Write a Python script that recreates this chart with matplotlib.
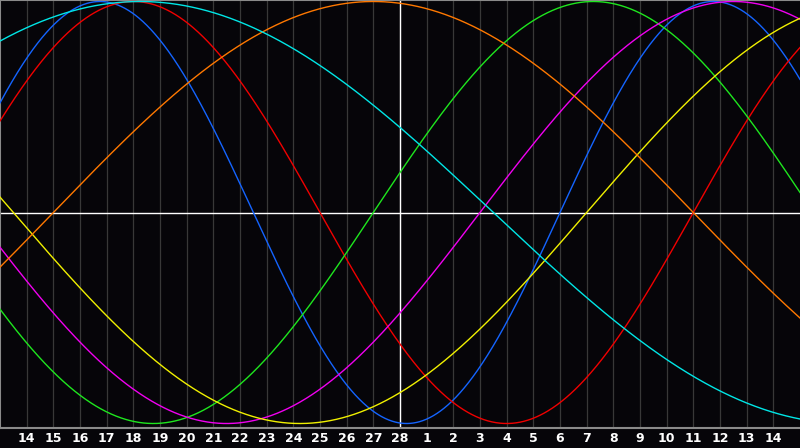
import numpy as np
import matplotlib
matplotlib.use("Agg")
import matplotlib.pyplot as plt

# ---- data ----
day_labels = ["14", "15", "16", "17", "18", "19", "20", "21", "22", "23", "24", "25", "26", "27", "28",
              "1", "2", "3", "4", "5", "6", "7", "8", "9", "10", "11", "12", "13", "14"]
days_since_birth_at_start = 43150      # day count at left edge of chart (day 13)
days_shown = 30
today_index = 15                        # the 28th
cycle_names = ["physical", "emotional", "intellectual", "intuitive", "aesthetic", "awareness", "spiritual"]
cycle_periods = [23, 28, 33, 38, 43, 48, 53]

# ---- style ----
cycle_colors = ["#1464ff", "#f00000", "#1ee61e", "#f000f0", "#f0f000", "#ff7800", "#00e6e6"]
bg = "#060509"
grid_col = "#383838"

W, H = 800, 448
plot_h = 428
fig = plt.figure(figsize=(W / 100, H / 100), dpi=100, facecolor=bg)
ax = fig.add_axes([0, (H - plot_h) / H, 1, plot_h / H])
ax.set_facecolor(bg)

# vertical day grid
for k in range(1, days_shown):
    ax.axvline(k, color=grid_col, lw=0.9, zorder=1)

# axes lines
ax.axhline(0, color="white", lw=1.0, zorder=2)
ax.axvline(today_index, color="white", lw=1.0, zorder=2)

t = np.linspace(0, days_shown, 1601)
for name, p, c in zip(cycle_names, cycle_periods, cycle_colors):
    v = np.sin(2 * np.pi * (days_since_birth_at_start + t) / p)
    ax.plot(t, v, color=c, lw=1.0, zorder=3)

ax.set_xlim(0, days_shown)
ax.set_ylim(-1.0213, 1.0071)
ax.set_xticks(range(1, days_shown))
ax.set_xticklabels(day_labels)
ax.tick_params(axis="x", length=0, pad=3, colors="white", labelsize=9)
for lab in ax.get_xticklabels():
    lab.set_fontweight("bold")
ax.set_yticks([])
for s in ["left", "bottom", "top"]:
    ax.spines[s].set_color("#8a8a8a")
    ax.spines[s].set_linewidth(1.5)
ax.spines["right"].set_visible(False)

fig.savefig("out.png", dpi=100, facecolor=bg)
